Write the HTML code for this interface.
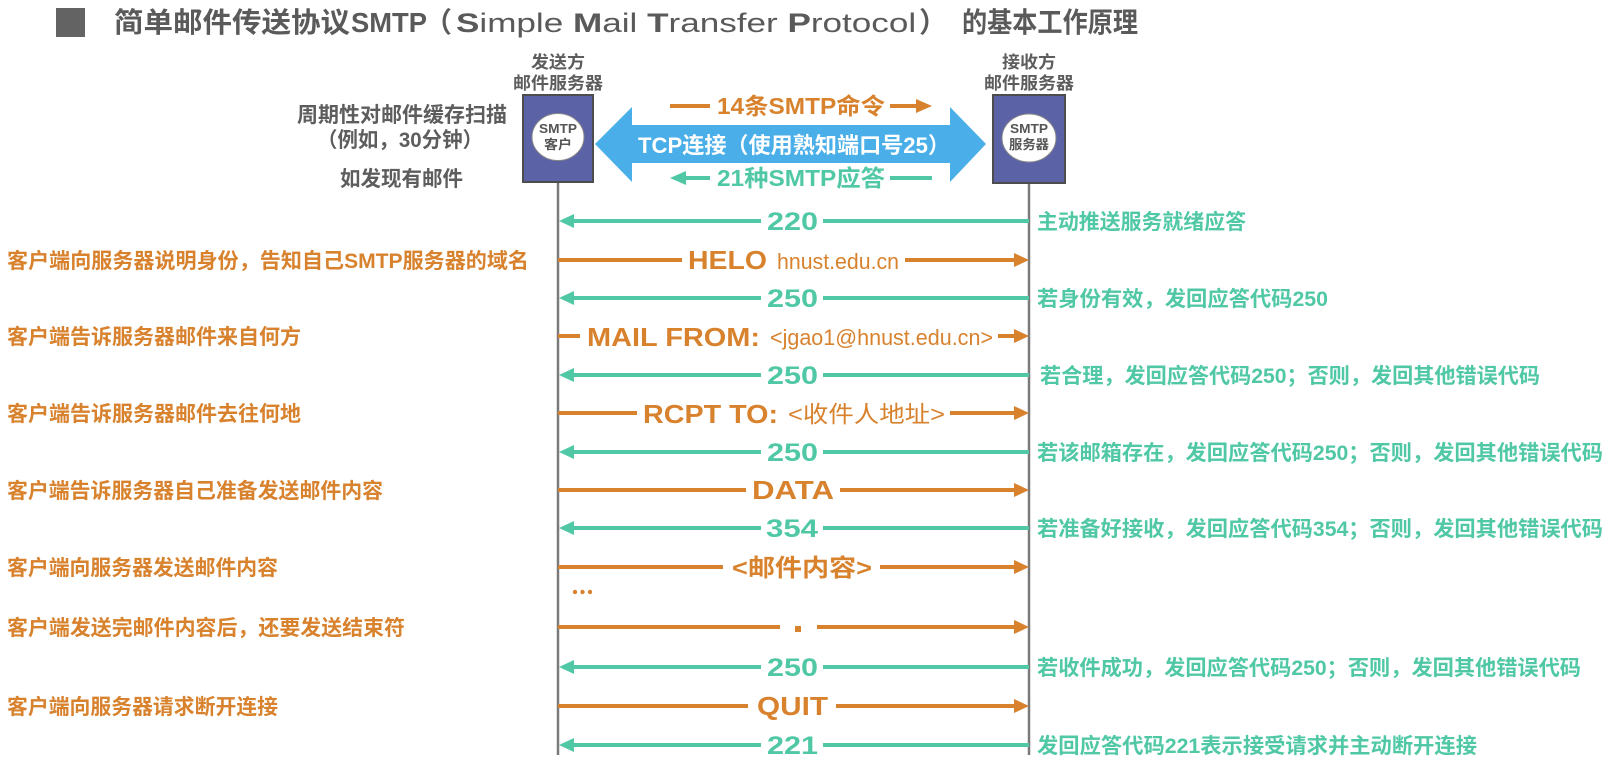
<!DOCTYPE html>
<html><head><meta charset="utf-8">
<style>
html,body{margin:0;padding:0;background:#fff;}
svg{display:block;}
text{font-family:"Liberation Sans","Noto Sans CJK SC",sans-serif;}
</style></head><body>
<svg width="1618" height="760" viewBox="0 0 1618 760" xmlns="http://www.w3.org/2000/svg">
<rect x="0" y="0" width="1618" height="760" fill="#ffffff"/>

<!-- Title -->
<rect x="56" y="8" width="29" height="29" fill="#636363"/>
<g fill="#5a5a5a">
<text x="114" y="32" font-size="28" font-weight="bold" textLength="236" lengthAdjust="spacingAndGlyphs">简单邮件传送协议</text>
<text x="351" y="32" font-size="28" font-weight="bold" textLength="76" lengthAdjust="spacingAndGlyphs">SMTP</text>
<text x="424" y="32" font-size="28" font-weight="bold">（</text>
<text transform="translate(456,32) scale(1.30,1)" x="0" y="0" font-size="27"><tspan font-weight="bold">S</tspan>imple <tspan font-weight="bold">M</tspan>ail <tspan font-weight="bold">T</tspan>ransfer <tspan font-weight="bold">P</tspan>rotocol</text>
<text x="919" y="32" font-size="28" font-weight="bold">）</text>
<text x="962" y="32" font-size="28" font-weight="bold" textLength="176" lengthAdjust="spacingAndGlyphs">的基本工作原理</text>
</g>

<!-- Header labels -->
<g fill="#5d5d5d" font-weight="bold" font-size="17" text-anchor="middle">
<text x="558" y="68" textLength="54" lengthAdjust="spacingAndGlyphs">发送方</text>
<text x="558" y="89" textLength="90" lengthAdjust="spacingAndGlyphs">邮件服务器</text>
<text x="1029" y="68" textLength="54" lengthAdjust="spacingAndGlyphs">接收方</text>
<text x="1029" y="89" textLength="90" lengthAdjust="spacingAndGlyphs">邮件服务器</text>
</g>

<!-- Left top gray notes -->
<g fill="#5d5d5d" font-weight="bold" font-size="21">
<text x="297" y="122" textLength="210" lengthAdjust="spacingAndGlyphs">周期性对邮件缓存扫描</text>
<text x="317" y="147" textLength="166" lengthAdjust="spacingAndGlyphs">（例如，30分钟）</text>
<text x="340" y="186" textLength="123" lengthAdjust="spacingAndGlyphs">如发现有邮件</text>
</g>

<!-- Lifelines -->
<line x1="558" y1="182" x2="558" y2="755" stroke="#7a7a7a" stroke-width="2.5"/>
<line x1="1029" y1="183" x2="1029" y2="755" stroke="#7a7a7a" stroke-width="2.5"/>

<!-- Boxes -->
<rect x="523" y="95" width="70" height="87" fill="#5b63a6" stroke="#4d4d4d" stroke-width="2"/>
<ellipse cx="558" cy="137" rx="26" ry="23.5" fill="#ffffff" stroke="#888" stroke-width="1"/>
<text x="558" y="133" font-size="13" font-weight="bold" fill="#555" text-anchor="middle" textLength="38" lengthAdjust="spacingAndGlyphs">SMTP</text>
<text x="558" y="149" font-size="13" font-weight="bold" fill="#555" text-anchor="middle" textLength="28" lengthAdjust="spacingAndGlyphs">客户</text>

<rect x="993" y="95" width="72" height="88" fill="#5b63a6" stroke="#4d4d4d" stroke-width="2"/>
<ellipse cx="1029" cy="138" rx="27" ry="24" fill="#ffffff" stroke="#888" stroke-width="1"/>
<text x="1029" y="133" font-size="13" font-weight="bold" fill="#555" text-anchor="middle" textLength="38" lengthAdjust="spacingAndGlyphs">SMTP</text>
<text x="1029" y="149" font-size="13" font-weight="bold" fill="#555" text-anchor="middle" textLength="40" lengthAdjust="spacingAndGlyphs">服务器</text>

<!-- Big blue double arrow -->
<polygon points="595,144 632,107 632,125 950,125 950,107 986,144 950,182 950,163 632,163 632,182" fill="#4aaee8"/>
<text x="638" y="153" font-size="22" font-weight="bold" fill="#ffffff" textLength="312" lengthAdjust="spacingAndGlyphs">TCP连接（使用熟知端口号25）</text>

<!-- 14 commands -->
<line x1="670" y1="106" x2="710" y2="106" stroke="#d8822e" stroke-width="4"/>
<text x="717" y="114" font-size="23" font-weight="bold" fill="#d8822e" textLength="168" lengthAdjust="spacingAndGlyphs">14条SMTP命令</text>
<line x1="890" y1="106" x2="918" y2="106" stroke="#d8822e" stroke-width="4"/>
<polygon points="932,106 916,99 916,113" fill="#d8822e"/>

<!-- 21 replies -->
<polygon points="670,178 686,171 686,185" fill="#50c8a5"/>
<line x1="684" y1="178" x2="710" y2="178" stroke="#50c8a5" stroke-width="4"/>
<text x="717" y="186" font-size="23" font-weight="bold" fill="#50c8a5" textLength="168" lengthAdjust="spacingAndGlyphs">21种SMTP应答</text>
<line x1="890" y1="178" x2="932" y2="178" stroke="#50c8a5" stroke-width="4"/>

<!-- ===== Teal reply arrows ===== -->
<g stroke="#50c8a5" stroke-width="4">
<line x1="572" y1="221" x2="761" y2="221"/><line x1="823" y1="221" x2="1029" y2="221"/>
<line x1="572" y1="298" x2="761" y2="298"/><line x1="823" y1="298" x2="1029" y2="298"/>
<line x1="572" y1="375" x2="761" y2="375"/><line x1="823" y1="375" x2="1029" y2="375"/>
<line x1="572" y1="452" x2="761" y2="452"/><line x1="823" y1="452" x2="1029" y2="452"/>
<line x1="572" y1="528" x2="761" y2="528"/><line x1="823" y1="528" x2="1029" y2="528"/>
<line x1="572" y1="667" x2="761" y2="667"/><line x1="823" y1="667" x2="1029" y2="667"/>
<line x1="572" y1="745" x2="761" y2="745"/><line x1="823" y1="745" x2="1029" y2="745"/>
</g>
<g fill="#50c8a5">
<polygon points="559,221 574,214 574,228"/>
<polygon points="559,298 574,291 574,305"/>
<polygon points="559,375 574,368 574,382"/>
<polygon points="559,452 574,445 574,459"/>
<polygon points="559,528 574,521 574,535"/>
<polygon points="559,667 574,660 574,674"/>
<polygon points="559,745 574,738 574,752"/>
</g>
<g fill="#50c8a5" font-size="25" font-weight="bold">
<text x="767" y="230" textLength="51" lengthAdjust="spacingAndGlyphs">220</text>
<text x="767" y="307" textLength="51" lengthAdjust="spacingAndGlyphs">250</text>
<text x="767" y="384" textLength="51" lengthAdjust="spacingAndGlyphs">250</text>
<text x="767" y="461" textLength="51" lengthAdjust="spacingAndGlyphs">250</text>
<text x="766" y="537" textLength="52" lengthAdjust="spacingAndGlyphs">354</text>
<text x="767" y="676" textLength="51" lengthAdjust="spacingAndGlyphs">250</text>
<text x="767" y="754" textLength="51" lengthAdjust="spacingAndGlyphs">221</text>
</g>

<!-- ===== Orange command arrows ===== -->
<g stroke="#d8822e" stroke-width="4">
<line x1="558" y1="260" x2="682" y2="260"/><line x1="905" y1="260" x2="1016" y2="260"/>
<line x1="558" y1="336" x2="580" y2="336"/><line x1="998" y1="336" x2="1016" y2="336"/>
<line x1="558" y1="413" x2="637" y2="413"/><line x1="950" y1="413" x2="1016" y2="413"/>
<line x1="558" y1="490" x2="746" y2="490"/><line x1="840" y1="490" x2="1016" y2="490"/>
<line x1="558" y1="567" x2="723" y2="567"/><line x1="880" y1="567" x2="1016" y2="567"/>
<line x1="558" y1="627" x2="780" y2="627"/><line x1="817" y1="627" x2="1016" y2="627"/>
<line x1="558" y1="706" x2="748" y2="706"/><line x1="836" y1="706" x2="1016" y2="706"/>
</g>
<g fill="#d8822e">
<polygon points="1029,260 1014,253 1014,267"/>
<polygon points="1029,336 1014,329 1014,343"/>
<polygon points="1029,413 1014,406 1014,420"/>
<polygon points="1029,490 1014,483 1014,497"/>
<polygon points="1029,567 1014,560 1014,574"/>
<polygon points="1029,627 1014,620 1014,634"/>
<polygon points="1029,706 1014,699 1014,713"/>
<rect x="795" y="626" width="6" height="6"/>
<circle cx="575" cy="592" r="2.2"/>
<circle cx="582.5" cy="592" r="2.2"/>
<circle cx="590" cy="592" r="2.2"/>
</g>
<g fill="#d8822e">
<text x="688" y="269" font-size="26" font-weight="bold" textLength="79" lengthAdjust="spacingAndGlyphs">HELO</text>
<text x="777" y="269" font-size="22" textLength="122" lengthAdjust="spacingAndGlyphs">hnust.edu.cn</text>
<text x="587" y="346" font-size="26" font-weight="bold" textLength="173" lengthAdjust="spacingAndGlyphs">MAIL FROM:</text>
<text x="770" y="345" font-size="22" textLength="223" lengthAdjust="spacingAndGlyphs">&lt;jgao1@hnust.edu.cn&gt;</text>
<text x="643" y="423" font-size="26" font-weight="bold" textLength="135" lengthAdjust="spacingAndGlyphs">RCPT TO:</text>
<text x="788" y="422" font-size="23" textLength="157" lengthAdjust="spacingAndGlyphs">&lt;收件人地址&gt;</text>
<text x="752" y="499" font-size="26" font-weight="bold" textLength="82" lengthAdjust="spacingAndGlyphs">DATA</text>
<text x="732" y="576" font-size="24" font-weight="bold" textLength="140" lengthAdjust="spacingAndGlyphs">&lt;邮件内容&gt;</text>
<text x="757" y="715" font-size="26" font-weight="bold" textLength="71" lengthAdjust="spacingAndGlyphs">QUIT</text>
</g>

<!-- Left orange descriptions -->
<g fill="#d8822e" font-size="21" font-weight="bold">
<text x="7" y="268" textLength="522" lengthAdjust="spacingAndGlyphs">客户端向服务器说明身份，告知自己SMTP服务器的域名</text>
<text x="7" y="344" textLength="294" lengthAdjust="spacingAndGlyphs">客户端告诉服务器邮件来自何方</text>
<text x="7" y="421" textLength="294" lengthAdjust="spacingAndGlyphs">客户端告诉服务器邮件去往何地</text>
<text x="7" y="498" textLength="376" lengthAdjust="spacingAndGlyphs">客户端告诉服务器自己准备发送邮件内容</text>
<text x="7" y="575" textLength="271" lengthAdjust="spacingAndGlyphs">客户端向服务器发送邮件内容</text>
<text x="7" y="635" textLength="398" lengthAdjust="spacingAndGlyphs">客户端发送完邮件内容后，还要发送结束符</text>
<text x="7" y="714" textLength="271" lengthAdjust="spacingAndGlyphs">客户端向服务器请求断开连接</text>
</g>

<!-- Right teal descriptions -->
<g fill="#50c8a5" font-size="21" font-weight="bold">
<text x="1037" y="229" textLength="209" lengthAdjust="spacingAndGlyphs">主动推送服务就绪应答</text>
<text x="1037" y="306" textLength="291" lengthAdjust="spacingAndGlyphs">若身份有效，发回应答代码250</text>
<text x="1040" y="383" textLength="500" lengthAdjust="spacingAndGlyphs">若合理，发回应答代码250；否则，发回其他错误代码</text>
<text x="1037" y="460" textLength="566" lengthAdjust="spacingAndGlyphs">若该邮箱存在，发回应答代码250；否则，发回其他错误代码</text>
<text x="1037" y="536" textLength="566" lengthAdjust="spacingAndGlyphs">若准备好接收，发回应答代码354；否则，发回其他错误代码</text>
<text x="1037" y="675" textLength="544" lengthAdjust="spacingAndGlyphs">若收件成功，发回应答代码250；否则，发回其他错误代码</text>
<text x="1037" y="753" textLength="440" lengthAdjust="spacingAndGlyphs">发回应答代码221表示接受请求并主动断开连接</text>
</g>
</svg>
</body></html>
